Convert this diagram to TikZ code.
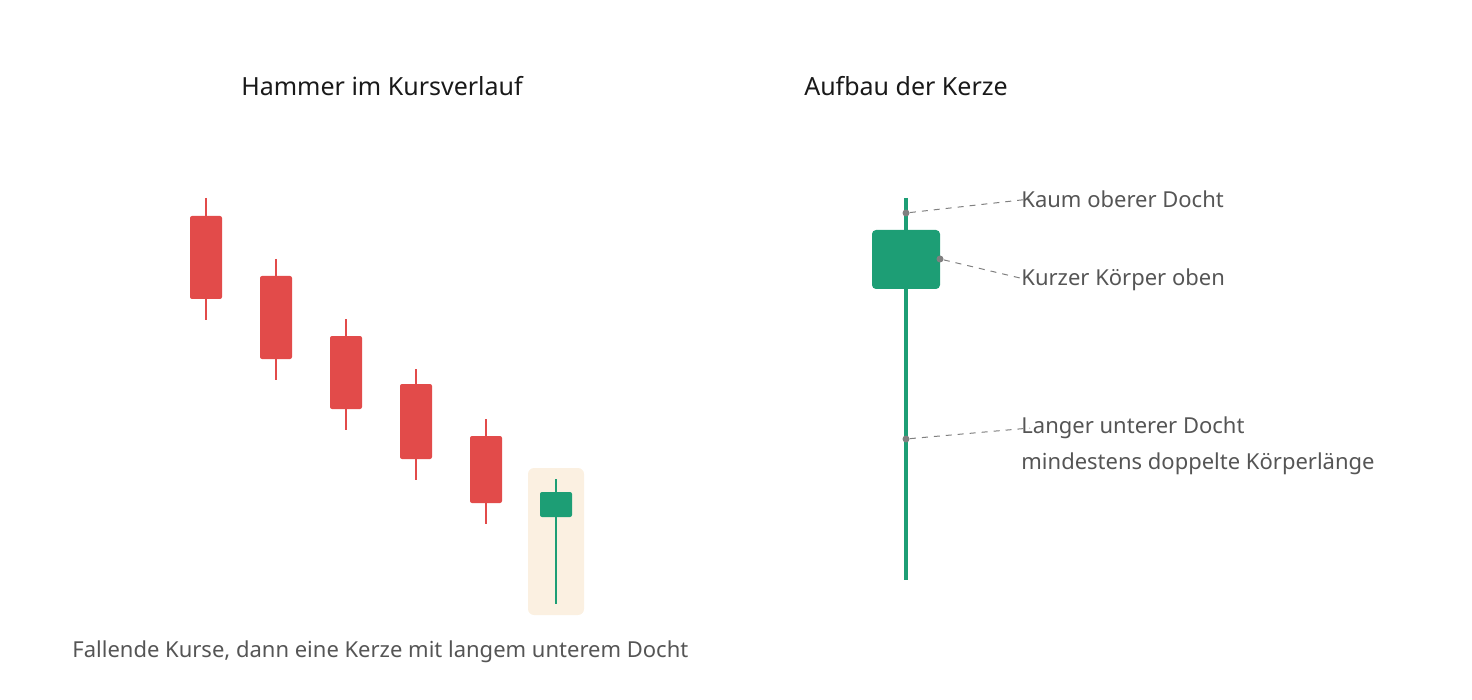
\documentclass[tikz,border=0pt]{standalone}
\usepackage{fontspec}
\setmainfont{Noto Sans}
\definecolor{bear}{HTML}{E24B4A}
\definecolor{bull}{HTML}{1D9E75}
\definecolor{hl}{HTML}{FBF0E1}
\definecolor{txt}{HTML}{555555}
\begin{document}
\begin{tikzpicture}[x=0.5pt,y=-0.5pt,
  wick/.style={line width=1pt},
  body/.style={rounded corners=1pt},
  lbl/.style={anchor=west,inner sep=0pt,text=txt,font=\fontsize{11}{13}\selectfont},
  ttl/.style={font=\fontsize{12.5}{15}\selectfont\bfseries,text=black!90},
  dot/.style={circle,fill=gray,inner sep=0pt,minimum size=3.5pt},
  lead/.style={gray,dashed,line width=0.5pt}]
\useasboundingbox (0,0) rectangle (1472,700);
\node[ttl] (t1) at (382,86) {Hammer im Kursverlauf};
\node[ttl] (t2) at (906,86) {Aufbau der Kerze};
\foreach \x/\wt/\bt/\bb/\wb in {206/198/216/299/320,276/259/276/359/380,346/319/336/409/430,416/369/384/459/480,486/419/436/503/524}{
  \draw[bear,wick] (\x,\wt) -- (\x,\wb);
  \fill[bear,body] (\x-16,\bt) rectangle (\x+16,\bb);
}
\fill[hl,rounded corners=3pt] (528,468) rectangle (584,615);
\draw[bull,wick] (556,479) -- (556,604);
\fill[bull,body] (540,492) rectangle (572,517);
\node[lbl] (cap) at (72,652) {Fallende Kurse, dann eine Kerze mit langem unterem Docht};
\draw[bull,line width=1.6pt] (906,198) -- (906,580);
\fill[bull,rounded corners=2pt] (872,230) rectangle (940,289);
\node[dot] (d1) at (906,213) {};
\node[dot] (d2) at (940,259) {};
\node[dot] (d3) at (906,439) {};
\node[lbl] (l1) at (1021,199) {Kaum oberer Docht};
\node[lbl] (l2) at (1021,280) {Kurzer Körper oben};
\node[lbl] (l3) at (1021,428) {Langer unterer Docht};
\node[lbl] (l4) at (1021,464) {mindestens doppelte Körperlänge};
\draw[lead] (d1) -- (1030,199);
\draw[lead] (d2) -- (1020,278);
\draw[lead] (d3) -- (1030,428);
\end{tikzpicture}
\end{document}
